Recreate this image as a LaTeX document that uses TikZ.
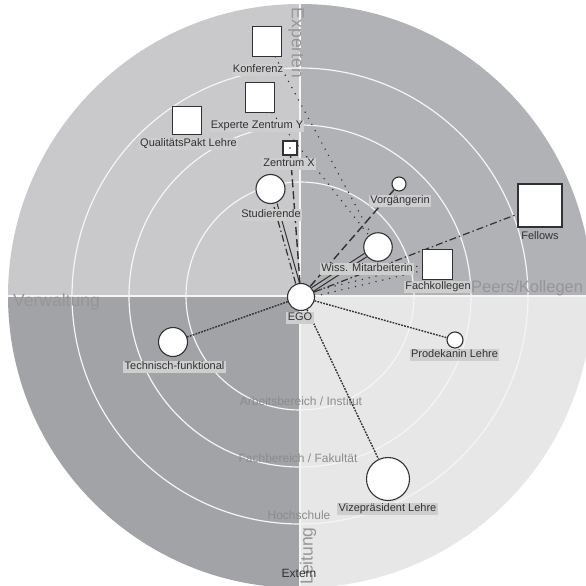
\documentclass[tikz,border=0pt]{standalone}
\usepackage{fontspec}
\setmainfont{Liberation Sans}
\pgfdeclarelayer{back}
\pgfdeclarelayer{ties}
\pgfsetlayers{back,ties,main}
\definecolor{qTL}{RGB}{201,201,203}
\definecolor{qTR}{RGB}{177,178,181}
\definecolor{qBL}{RGB}{162,163,166}
\definecolor{qBR}{RGB}{231,231,231}
\definecolor{rimc}{RGB}{245,245,245}
\definecolor{axistext}{RGB}{150,150,152}
\definecolor{ringtext}{RGB}{140,140,142}
\definecolor{tagbg}{RGB}{206,206,207}
\definecolor{tagtext}{RGB}{50,50,52}
\definecolor{linec}{RGB}{50,50,52}
\begin{document}
\begin{tikzpicture}[x=1pt,y=-1pt,
  person/.style={circle, draw=linec, line width=1.1pt, fill=white, inner sep=0pt},
  inst/.style={rectangle, draw=linec, line width=1.1pt, fill=white, inner sep=0pt},
  tag/.style={fill=tagbg, text=tagtext, font=\fontsize{11}{12}\selectfont,
    inner xsep=1.3pt, inner ysep=1.2pt, text height=8.2pt, text depth=2.3pt},
  plaintag/.style={tag, fill=none},
  sector/.style={text=axistext, font=\fontsize{17.5}{20}\selectfont, inner sep=0pt},
  ringlabel/.style={text=ringtext, font=\fontsize{12}{14}\selectfont, inner sep=0pt},
  ring/.style={draw=rimc, line width=1.2pt},
  divider/.style={draw=rimc, line width=1.6pt},
  tie/.style={draw=linec, line width=1pt},
  tiedot/.style={draw=linec, line width=1.6pt, line cap=round, dash pattern=on 0pt off 7pt},
  tiedense/.style={draw=linec, line width=1.4pt, dash pattern=on 1.8pt off 1.2pt},
  tielong/.style={draw=linec, line width=1.4pt, dash pattern=on 8pt off 4pt},
  tiedashdot/.style={draw=linec, line width=1.2pt, dash pattern=on 7pt off 3pt on 1.5pt off 3pt}
]
\useasboundingbox (0,0) rectangle (586,586);
\coordinate (c) at (300,296);

% sectors, rings and dividing axes
\begin{pgfonlayer}{back}
  \begin{scope}
    \clip (c) circle[radius=292];
    \fill[qTL] (0,0) rectangle (300,296);
    \fill[qTR] (300,0) rectangle (600,296);
    \fill[qBL] (0,296) rectangle (300,600);
    \fill[qBR] (300,296) rectangle (600,600);
    \draw[ring] (c) circle[radius=114];
    \draw[ring] (c) circle[radius=171];
    \draw[ring] (c) circle[radius=228];
    \draw[divider] (0,296) -- (600,296);
    \draw[divider] (300,0) -- (300,600);
  \end{scope}
  % sector names
  \node[sector, rotate=-90] (sexp) at (296,43) {Experten};
  \node[sector, anchor=west, font=\fontsize{16.5}{19}\selectfont] (speer) at (471,288) {Peers/Kollegen};
  \node[sector, anchor=west] (sverw) at (13,302) {Verwaltung};
  \node[sector, rotate=90] (sleit) at (308,556) {Leitung};
  % ring names
  \node[ringlabel] (rarb) at (301,401) {Arbeitsbereich / Institut};
  \node[ringlabel] (rfach) at (298,458) {Fachbereich / Fakultät};
  \node[ringlabel] (rhoch) at (299,515) {Hochschule};
  \node[font=\fontsize{12}{14}\selectfont, text=tagtext, inner sep=0pt] (rext) at (299,573) {Extern};
\end{pgfonlayer}

% actors
\node[person, minimum size=27pt] (ego) at (301,297) {};
\node[person, minimum size=29pt] (stud) at (270.5,189) {};
\node[person, minimum size=29pt] (tech) at (173,342) {};
\node[person, minimum size=28.5pt] (wiss) at (378,247) {};
\node[person, minimum size=14pt] (vorg) at (399,184) {};
\node[person, minimum size=16pt] (prod) at (455,340) {};
\node[person, minimum size=43pt] (vize) at (388,479) {};
\node[inst, minimum size=29.5pt] (konf) at (267,41.5) {};
\node[inst, minimum size=29.5pt] (expy) at (260,97.5) {};
\node[inst, minimum size=28.5pt] (qpl) at (187,120.5) {};
\node[inst, minimum size=14pt] (zx) at (290,148) {};
\fill[linec] (zx.center) circle[radius=0.8];
\node[inst, minimum size=30pt] (fachk) at (437.5,264.5) {};
\node[inst, minimum width=44pt, minimum height=43pt] (fell) at (540,205.5) {};

% ties from EGO and between contacts
\begin{pgfonlayer}{ties}
  \draw[tiedashdot, transform canvas={shift={(-1.5,0)}}] (ego) -- (stud);
  \draw[tie, transform canvas={shift={(2.5,0)}}] (ego) -- (stud);
  \draw[tielong] (ego) -- (zx);
  \draw[tielong] (ego) -- (vorg);
  \draw[tie, transform canvas={shift={(1.1,1.7)}}] (ego) -- (wiss);
  \draw[tie, transform canvas={shift={(-1.1,-1.7)}}] (ego) -- (wiss);
  \draw[tiedashdot] (ego) -- (fell);
  \draw[tiedot, transform canvas={shift={(0,2.5)}}] (ego) -- (fachk);
  \draw[tiedot, transform canvas={shift={(0,-3)}}] (ego) -- (fachk);
  \draw[tiedot] (konf) -- (wiss);
  \draw[tiedot] (expy) -- (wiss);
  \draw[tiedense] (ego) -- (tech);
  \draw[tiedense] (ego) -- (prod);
  \draw[tiedense] (ego) -- (vize);
\end{pgfonlayer}

% names of the actors
\node[tag] (tkonf) at (258,70) {Konferenz};
\node[tag] (texpy) at (257,126) {Experte Zentrum Y};
\node[tag] (tqpl) at (188.5,144) {QualitätsPakt Lehre};
\node[tag] (tzx) at (289,164) {Zentrum X};
\node[tag] (tstud) at (271,215) {Studierende};
\node[tag] (tego) at (300,318) {EGO};
\node[tag] (tvorg) at (400,201) {Vorgängerin};
\node[tag] (twiss) at (367,269) {Wiss. Mitarbeiterin};
\node[tag] (tfachk) at (438,287) {Fachkollegen};
\node[plaintag] (tfell) at (540,237) {Fellows};
\node[tag] (ttech) at (174.5,367) {Technisch-funktional};
\node[tag] (tprod) at (454.5,355) {Prodekanin Lehre};
\node[tag] (tvize) at (387.5,509) {Vizepräsident Lehre};
\end{tikzpicture}
\end{document}
